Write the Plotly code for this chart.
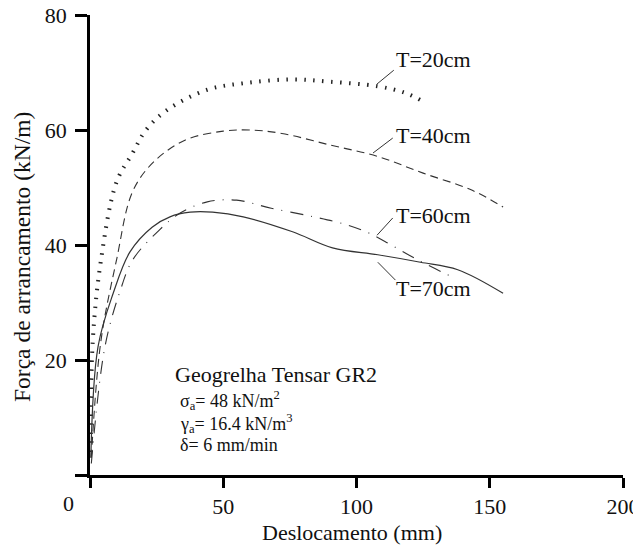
import plotly.graph_objects as go

FONT = "'Liberation Serif', 'DejaVu Serif', serif"

# T=20cm
x20 = [0.3, 1, 4, 10, 16, 21, 29, 44, 59, 76, 90, 108, 118, 124]
y20 = [4, 23, 37, 51, 56, 60, 63.5, 67, 68.2, 68.8, 68.4, 67.6, 66.5, 65.2]
# T=40cm
x40 = [0.5, 4, 10, 16, 24, 36, 50, 60, 72, 90, 108, 125, 143, 155]
y40 = [3, 23, 37.5, 49.3, 54.5, 58.3, 59.8, 60, 59.4, 57.4, 55.4, 52.5, 49.6, 46.6]
# T=60cm
x60 = [0.5, 5.6, 11.3, 16, 26, 34, 44, 55, 68, 84, 96.5, 105, 113, 123, 136.5]
y60 = [2, 22.3, 32, 37.4, 42.6, 45.6, 47.5, 47.8, 46.4, 44.9, 43.5, 42, 40, 37.4, 34.3]
# T=70cm
x70 = [0.3, 3, 8.7, 15, 23.3, 30, 37.6, 46, 57.5, 76, 91, 108, 124, 138, 155]
y70 = [3, 22.3, 31.6, 38.8, 43.1, 44.9, 45.7, 45.7, 44.9, 42.3, 39.5, 38.3, 37, 35.7, 31.6]

x_ticks = [0, 50, 100, 150, 200]
x_ticktext = ["", "50", "100", "150", "200"]
y_ticks = [0, 20, 40, 60, 80]
y_ticktext = ["", "20", "40", "60", "80"]

x_title = "Deslocamento (mm)"
y_title = "Força de arrancamento (kN/m)"

labels = ["T=20cm", "T=40cm", "T=60cm", "T=70cm"]
label_x = [114.2, 114.2, 114.2, 114.2]
label_y = [72.2, 59.1, 45.2, 32.5]
# leader lines: start (on curve) and end (near label)
lead_x0 = [107.7, 106.2, 107.7, 108.0]
lead_y0 = [68.0, 56.0, 41.7, 37.0]
lead_x1 = [114.0, 113.6, 113.6, 114.6]
lead_y1 = [70.4, 58.6, 44.7, 33.9]

info_lines = ["Geogrelha Tensar GR2",
              "σ<sub>a</sub>= 48 kN/m<sup>2</sup>",
              "γ<sub>a</sub>= 16.4 kN/m<sup>3</sup>",
              "δ= 6 mm/min"]
info_x = [31, 33, 33, 33]
info_y = [17.4, 12.9, 9.0, 5.3]
info_size = [22, 18, 18, 18]

fig = go.Figure()
fig.add_trace(go.Scatter(x=x20, y=y20, mode="lines",
                         line=dict(color="#222", width=4, dash="1.5px,7.5px", shape="spline")))
fig.add_trace(go.Scatter(x=x40, y=y40, mode="lines",
                         line=dict(color="#333", width=1.1, dash="8px,5px", shape="spline")))
fig.add_trace(go.Scatter(x=x60, y=y60, mode="lines",
                         line=dict(color="#333", width=1.1, dash="13px,8px,1px,8px", shape="spline")))
fig.add_trace(go.Scatter(x=x70, y=y70, mode="lines",
                         line=dict(color="#333", width=1.2, shape="spline")))

shapes = []
for a, b, c, d in zip(lead_x0, lead_y0, lead_x1, lead_y1):
    shapes.append(dict(type="line", xref="x", yref="y", x0=a, y0=b, x1=c, y1=d,
                       line=dict(color="#333", width=1)))

annotations = []
for lab, lx, ly in zip(labels, label_x, label_y):
    annotations.append(dict(x=lx, y=ly, xref="x", yref="y", text=lab, showarrow=False,
                            xanchor="left", yanchor="middle",
                            font=dict(family=FONT, size=22, color="#111")))
for t, ix, iy, s in zip(info_lines, info_x, info_y, info_size):
    annotations.append(dict(x=ix, y=iy, xref="x", yref="y", text=t, showarrow=False,
                            xanchor="left", yanchor="middle",
                            font=dict(family=FONT, size=s, color="#111")))
annotations.append(dict(x=-22 / 533, y=-28 / 460, xref="paper", yref="paper", text="0",
                        showarrow=False, xanchor="center", yanchor="middle",
                        font=dict(family=FONT, size=22, color="#111")))
# axis titles
annotations.append(dict(x=262 / 533, y=-57 / 460, xref="paper", yref="paper", text=x_title,
                        showarrow=False, xanchor="center", yanchor="middle",
                        font=dict(family=FONT, size=22, color="#111")))
annotations.append(dict(x=-68 / 533, y=218 / 460, xref="paper", yref="paper", text=y_title,
                        showarrow=False, xanchor="center", yanchor="middle", textangle=-90,
                        font=dict(family=FONT, size=23.5, color="#111")))

fig.update_layout(
    width=633, height=537,
    margin=dict(l=82, r=18, t=7, b=70),
    paper_bgcolor="white", plot_bgcolor="white",
    showlegend=False,
    font=dict(family=FONT, size=22, color="#111"),
    xaxis=dict(range=[0, 200], tickvals=x_ticks, ticktext=x_ticktext, automargin=False,
               showgrid=False, zeroline=False, showline=True, linecolor="black", linewidth=2.5,
               ticks="outside", ticklen=10, tickwidth=2.5, tickcolor="black",
               ticklabelstandoff=0, ticklabeloverflow="allow"),
    yaxis=dict(range=[0, 80], tickvals=y_ticks, ticktext=y_ticktext, automargin=False,
               showgrid=False, zeroline=False, showline=True, linecolor="black", linewidth=2.5,
               ticks="outside", ticklen=12, tickwidth=2.5, tickcolor="black",
               ticklabelstandoff=4, ticklabeloverflow="allow"),
    shapes=shapes,
    annotations=annotations,
)
fig.write_html("out.html")
